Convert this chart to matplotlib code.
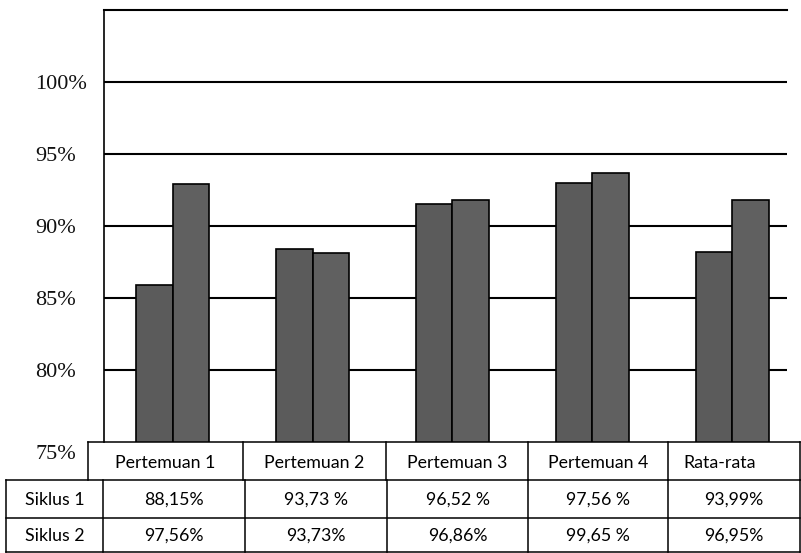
import numpy as np
from matplotlib import pyplot as plt
import matplotlib.transforms as mtransforms

categories = ["Pertemuan 1", "Pertemuan 2", "Pertemuan 3", "Pertemuan 4", "Rata-rata"]
siklus_1_bar = [85.9, 88.4, 91.5, 93.0, 88.2]
siklus_2_bar = [92.9, 88.1, 91.8, 93.7, 91.8]
row_labels = ["Siklus 1", "Siklus 2"]
siklus_1_text = ["88,15%", "93,73 %", "96,52 %", "97,56 %", "93,99%"]
siklus_2_text = ["97,56%", "93,73%", "96,86%", "99,65 %", "96,95%"]
y_ticks = [75, 80, 85, 90, 95, 100]

W, H = 801, 553
fig = plt.figure(figsize=(W / 100, H / 100), dpi=100)

# chart area (pixel box measured from reference)
ax = fig.add_axes([104 / W, 1 - 442 / H, (787 - 104) / W, (442 - 10) / H])
x = np.arange(len(categories))
bw = 0.262
ax.bar(x - bw / 2, siklus_1_bar, bw, bottom=0, color="#5b5b5b", edgecolor="black", linewidth=1.2, zorder=3)
ax.bar(x + bw / 2, siklus_2_bar, bw, bottom=0, color="#606060", edgecolor="black", linewidth=1.2, zorder=3)
ax.set_ylim(75, 105)
ax.set_xlim(-0.49, 4.39)
ax.set_yticks(y_ticks)
ax.set_yticklabels([f"{t}%" for t in y_ticks], family="Liberation Serif", fontsize=16, ha="left",
                   color="#111111")
ax.tick_params(axis="y", length=0, pad=49.5)
ax.set_xticks([])
# the lowest label sits a little below the axis bottom in the reference
low = ax.get_yticklabels()[0]
low.set_transform(low.get_transform() + mtransforms.ScaledTranslation(0, -0.1, fig.dpi_scale_trans))
for t in y_ticks[1:]:
    ax.axhline(t, color="black", linewidth=1.5, zorder=1)
for side in ["right", "bottom"]:
    ax.spines[side].set_visible(False)
ax.spines["top"].set_linewidth(1.5)
ax.spines["left"].set_linewidth(1.2)

# data table drawn in pixel coordinates
tb = fig.add_axes([0, 0, 1, 1])
tb.set_xlim(0, W)
tb.set_ylim(H, 0)
tb.axis("off")
lw = 1.1
font = dict(family="Lato", fontsize=12.8, color="black")

head_cols = [88, 243, 386, 528, 668, 800]
data_cols = [6, 103, 245, 387, 528, 668, 800]
y_head = (442, 480)
y_rows = [480, 518, 552]

tb.plot([head_cols[0], head_cols[-1]], [y_head[0], y_head[0]], color="black", lw=lw)
for cx in head_cols:
    tb.plot([cx, cx], list(y_head), color="black", lw=lw)
for ry in y_rows:
    tb.plot([data_cols[0], data_cols[-1]], [ry, ry], color="black", lw=lw)
for cx in data_cols:
    tb.plot([cx, cx], [y_rows[0], y_rows[-1]], color="black", lw=lw)

for i, c in enumerate(categories):
    cx = (head_cols[i] + head_cols[i + 1]) / 2
    if c == "Rata-rata":
        tb.text(head_cols[i] + 15, sum(y_head) / 2 + 2, c, ha="left", va="center", **font)
    else:
        tb.text(cx, sum(y_head) / 2 + 2, c, ha="center", va="center", **font)

for r, (lab, vals) in enumerate(zip(row_labels, [siklus_1_text, siklus_2_text])):
    cy = (y_rows[r] + y_rows[r + 1]) / 2 + 1
    tb.text((data_cols[0] + data_cols[1]) / 2, cy, lab, ha="center", va="center", **font)
    for i, v in enumerate(vals):
        cx = (data_cols[i + 1] + data_cols[i + 2]) / 2
        tb.text(cx, cy, v, ha="center", va="center", **font)

fig.savefig("out.png", dpi=100)
